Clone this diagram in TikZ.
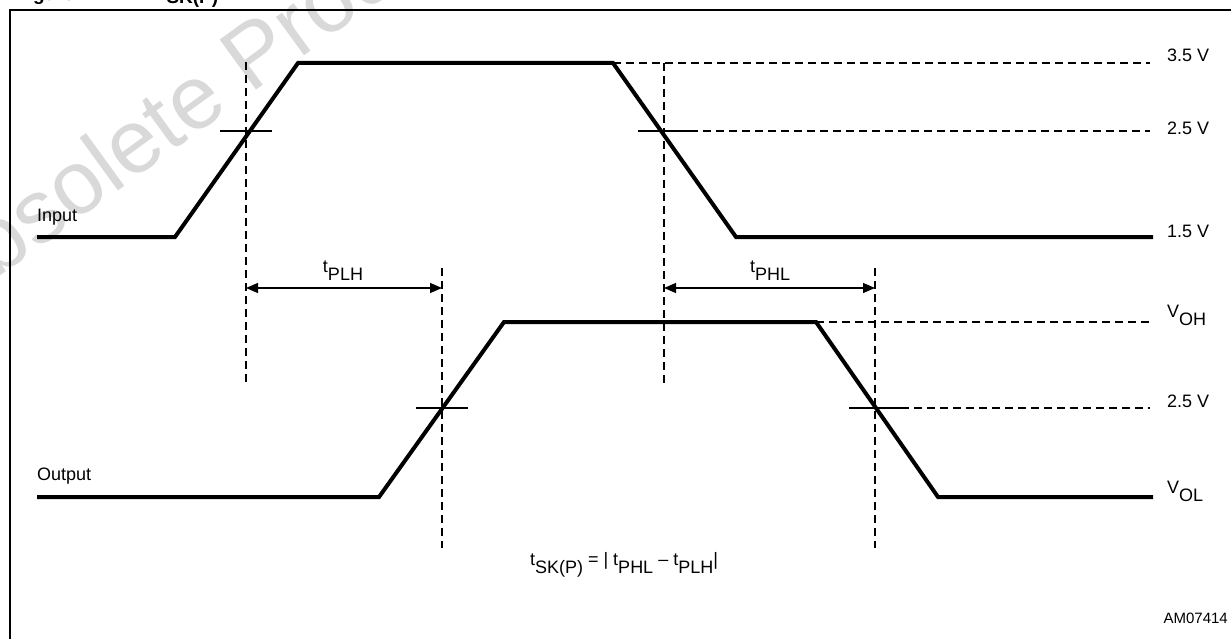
\documentclass[tikz,border=0pt]{standalone}
\usepackage{fontspec}
\setmainfont{Liberation Sans}
\usetikzlibrary{arrows.meta}
\newcommand\lowr[1]{\raisebox{-8pt}{#1}}
\begin{document}
\begin{tikzpicture}[x=1pt,y=-1pt,
  wave/.style={line width=4pt},
  guide/.style={line width=1.3pt, dash pattern=on 8pt off 5pt},
  tickmark/.style={line width=1.3pt},
  dimline/.style={line width=1.3pt, {Triangle[length=12pt,width=10pt]}-{Triangle[length=12pt,width=10pt]}},
  lbl/.style={inner sep=0pt, font=\fontsize{18}{20}\selectfont},
  frameline/.style={line width=2pt},
]
\useasboundingbox (0,0) rectangle (1231,639);
% watermark
\node[anchor=base west, rotate=36, text=black!15, inner sep=0pt,
      font=\fontsize{90}{90}\selectfont] (wm) at (-61,321) {Obsolete Product(s)};
% title fragment and frame
\node[anchor=base west, inner sep=0pt, font=\bfseries\fontsize{19}{20}\selectfont] (ttl) at (16,1) {Figure};
\node[anchor=base west, inner sep=0pt, font=\bfseries\fontsize{19}{20}\selectfont] (ttlt) at (160,-4) {t\lowr{SK(P)}};
\coordinate (fbl) at (10,660);
\coordinate (ftl) at (10,10);
\coordinate (ftr) at (1260,10);
\draw[frameline] (fbl) -- (ftl) -- (ftr);

% input waveform
\coordinate (i0) at (37,237);
\coordinate (i1) at (175,237);
\coordinate (i2) at (298,63);
\coordinate (i3) at (613,63);
\coordinate (i4) at (736,237);
\coordinate (i5) at (1153,237);
% output waveform
\coordinate (o0) at (37,497);
\coordinate (o1) at (379,497);
\coordinate (o2) at (504,322);
\coordinate (o3) at (816,322);
\coordinate (o4) at (938,497);
\coordinate (o5) at (1153,497);

% vertical guides
\coordinate (va1) at (246,62);  \coordinate (va2) at (246,385);
\coordinate (vb1) at (664,63);  \coordinate (vb2) at (664,385);
\coordinate (vc1) at (442,268); \coordinate (vc2) at (442,548);
\coordinate (vd1) at (875,268); \coordinate (vd2) at (875,548);
\draw[guide] (va1) -- (va2);
\draw[guide] (vb1) -- (vb2);
\draw[guide] (vc1) -- (vc2);
\draw[guide] (vd1) -- (vd2);

% horizontal guides and ticks
\coordinate (g35) at (1150,63);
\coordinate (ta1) at (220,131); \coordinate (ta2) at (272,131);
\coordinate (tb1) at (638,131); \coordinate (tb2) at (690,131);
\coordinate (g25a) at (1150,131);
\coordinate (gvoh) at (1150,322);
\coordinate (tc1) at (416,408); \coordinate (tc2) at (468,408);
\coordinate (td1) at (849,408); \coordinate (td2) at (901,408);
\coordinate (g25b) at (1150,408);
\draw[guide] (i3) -- (g35);
\draw[guide] (tb2) -- (g25a);
\draw[guide] (o3) -- (gvoh);
\draw[guide] (td2) -- (g25b);
\draw[tickmark] (ta1) -- (ta2);
\draw[tickmark] (tb1) -- (tb2);
\draw[tickmark] (tc1) -- (tc2);
\draw[tickmark] (td1) -- (td2);

% waveforms
\draw[wave] (i0) -- (i1) -- (i2) -- (i3) -- (i4) -- (i5);
\draw[wave] (o0) -- (o1) -- (o2) -- (o3) -- (o4) -- (o5);

% dimension arrows
\coordinate (aa) at (246,288); \coordinate (ab) at (442,288);
\coordinate (ac) at (664,288); \coordinate (ad) at (875,288);
\draw[dimline] (aa) -- (ab);
\draw[dimline] (ac) -- (ad);

% labels
\node[lbl, anchor=base west] (inlbl) at (37,222) {Input};
\node[lbl, anchor=base west] (outlbl) at (37,480) {Output};
\node[lbl, anchor=base west] (v35) at (1167,62) {3.5 V};
\node[lbl, anchor=base west] (v25a) at (1167,135) {2.5 V};
\node[lbl, anchor=base west] (v15) at (1167,237) {1.5 V};
\node[lbl, anchor=base west] (voh) at (1167,317) {V\lowr{OH}};
\node[lbl, anchor=base west] (v25b) at (1167,407) {2.5 V};
\node[lbl, anchor=base west] (vol) at (1167,493) {V\lowr{OL}};
\node[lbl, anchor=base] (tplh) at (343,272) {t\lowr{PLH}};
\node[lbl, anchor=base] (tphl) at (770,272) {t\lowr{PHL}};
\node[lbl, anchor=base] (tsk) at (624,565) {t\lowr{SK(P)} = | t\lowr{PHL} – t\lowr{PLH}|};
\node[inner sep=0pt, anchor=base east, font=\fontsize{15}{16}\selectfont] (am) at (1228,623) {AM07414};
\end{tikzpicture}
\end{document}
